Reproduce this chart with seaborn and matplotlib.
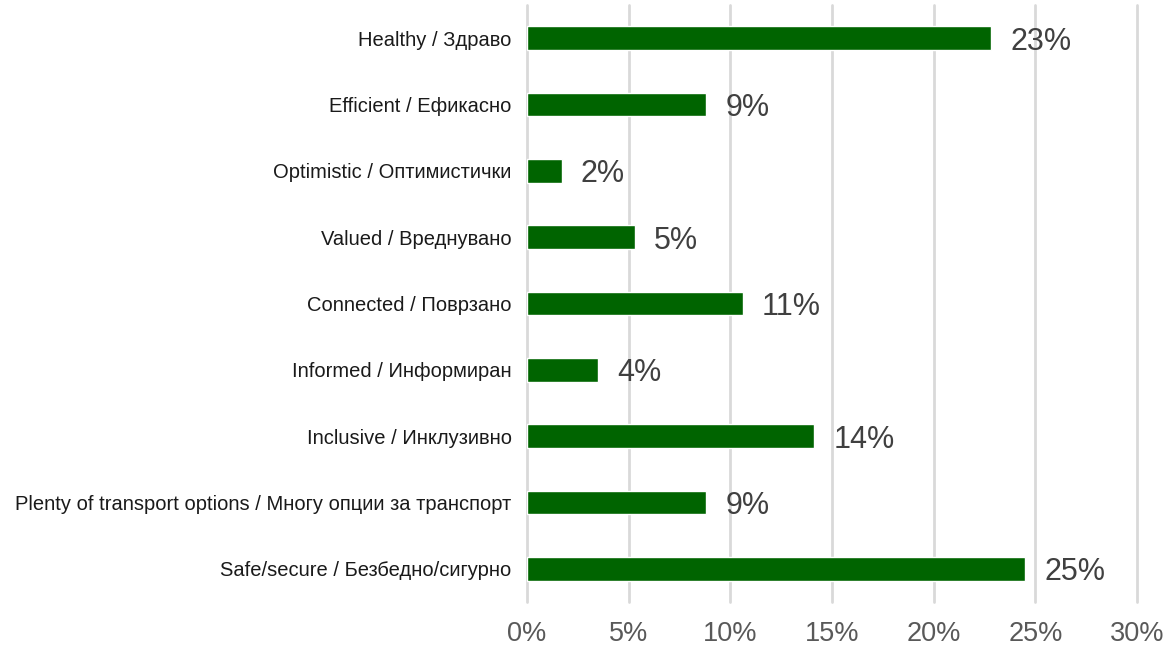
import matplotlib
matplotlib.use("Agg")
import pandas as pd
import seaborn as sns
from matplotlib import pyplot as plt
from matplotlib.ticker import PercentFormatter

categories = [
    "Healthy / Здраво",
    "Efficient / Ефикасно",
    "Optimistic / Оптимистички",
    "Valued / Вреднувано",
    "Connected / Поврзано",
    "Informed / Информиран",
    "Inclusive / Инклузивно",
    "Plenty of transport options / Многу опции за транспорт",
    "Safe/secure / Безбедно/сигурно",
]
values = [22.8, 8.8, 1.7, 5.3, 10.6, 3.5, 14.1, 8.8, 24.5]
bar_labels = ["23%", "9%", "2%", "5%", "11%", "4%", "14%", "9%", "25%"]
x_ticks = [0, 5, 10, 15, 20, 25, 30]

dati = pd.DataFrame({"categoria": categories, "valore": values})

sns.set_style("white")
plt.rcParams["font.family"] = ["Liberation Sans", "DejaVu Sans"]

fig = plt.figure(figsize=(11.7, 6.5), dpi=100)
ax = fig.add_axes([0.4504, 0.0738, 0.5214, 0.9185])

sns.barplot(data=dati, x="valore", y="categoria", color="#006400",
            saturation=1, width=0.36, ax=ax)

ax.set_xlim(0, 30)
ax.set_xticks(x_ticks)
ax.xaxis.set_major_formatter(PercentFormatter(decimals=0))
ax.grid(axis="x", color="#d9d9d9", linewidth=2)
for gl in ax.xaxis.get_gridlines():
    gl.set_clip_on(False)
ax.set_axisbelow(True)
sns.despine(ax=ax, left=True, bottom=True)

ax.tick_params(axis="x", length=0, pad=14, labelsize=19.5, labelcolor="#595959")
ax.tick_params(axis="y", length=0, pad=11, labelsize=14.5, labelcolor="#1a1a1a")
ax.set_xlabel("")
ax.set_ylabel("")

# etichette delle barre, leggermente più in basso come nell'originale
texts = ax.bar_label(ax.containers[0], labels=bar_labels, padding=14,
                     fontsize=22, color="#404040")
for t in texts:
    t.set_verticalalignment("center_baseline")

fig.savefig("out.png", dpi=100)
